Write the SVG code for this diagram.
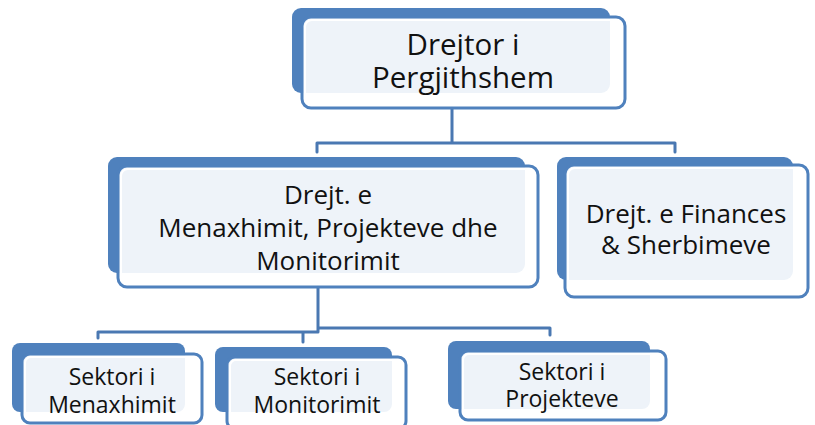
<svg xmlns="http://www.w3.org/2000/svg" width="815" height="425" viewBox="0 0 815 425">
<style>
.back{fill:#4F81BD}
.front{fill:#ffffff;fill-opacity:0.9;stroke:#4F81BD;stroke-width:3}
.inner{fill:none;stroke:#ffffff;stroke-width:2}
.t{font-family:"Open Sans","Liberation Sans",sans-serif;fill:#111;text-anchor:middle}
.conn{fill:none;stroke:#4A78B2;stroke-width:3;stroke-linejoin:round;stroke-linecap:round}
</style>
<rect width="815" height="425" fill="#ffffff"/>
<g id="connectors">
<path class="conn" d="M452,108 V143 M317,152 V143 H675 V152"/>
<path class="conn" d="M318,287 V332 H98 V338 M318,328 H550 V335 M303,332 V342"/>
</g>
<g id="n-top">
<rect class="back" x="292" y="8" width="318" height="85" rx="9"/>
<rect class="front" x="302" y="17" width="323" height="91" rx="9"/>
<rect class="inner" x="305" y="20" width="317" height="85" rx="7"/>
<text class="t" font-size="29.5"><tspan x="463" y="55">Drejtor i</tspan><tspan x="463" y="88">Pergjithshem</tspan></text>
</g>
<g id="n-mpm">
<rect class="back" x="108" y="157" width="417" height="116" rx="9"/>
<rect class="front" x="118" y="166" width="420" height="121" rx="9"/>
<rect class="inner" x="121" y="169" width="414" height="115" rx="7"/>
<text class="t" font-size="26"><tspan x="328" y="204">Drejt. e</tspan><tspan x="328" y="237">Menaxhimit, Projekteve dhe</tspan><tspan x="328" y="270">Monitorimit</tspan></text>
</g>
<g id="n-fin">
<rect class="back" x="557" y="157" width="236" height="123" rx="9"/>
<rect class="front" x="565" y="165" width="243" height="132" rx="9"/>
<rect class="inner" x="568" y="168" width="237" height="126" rx="7"/>
<text class="t" font-size="26"><tspan x="686" y="223">Drejt. e Finances</tspan><tspan x="686" y="254">&amp; Sherbimeve</tspan></text>
</g>
<g id="n-sm">
<rect class="back" x="12" y="343" width="173" height="69" rx="8"/>
<rect class="front" x="22" y="354" width="180" height="69" rx="8"/>
<rect class="inner" x="25" y="357" width="174" height="63" rx="6"/>
<text class="t" font-size="23"><tspan x="112" y="385">Sektori i</tspan><tspan x="112" y="413">Menaxhimit</tspan></text>
</g>
<g id="n-smo">
<rect class="back" x="215" y="347" width="177" height="65" rx="8"/>
<rect class="front" x="227" y="357" width="179" height="72" rx="8"/>
<rect class="inner" x="230" y="360" width="173" height="66" rx="6"/>
<text class="t" font-size="23"><tspan x="317" y="385">Sektori i</tspan><tspan x="317" y="413">Monitorimit</tspan></text>
</g>
<g id="n-sp">
<rect class="back" x="448" y="341" width="202" height="68" rx="8"/>
<rect class="front" x="460" y="351" width="206" height="69" rx="8"/>
<rect class="inner" x="463" y="354" width="200" height="63" rx="6"/>
<text class="t" font-size="23"><tspan x="562" y="380">Sektori i</tspan><tspan x="562" y="407">Projekteve</tspan></text>
</g>
</svg>
